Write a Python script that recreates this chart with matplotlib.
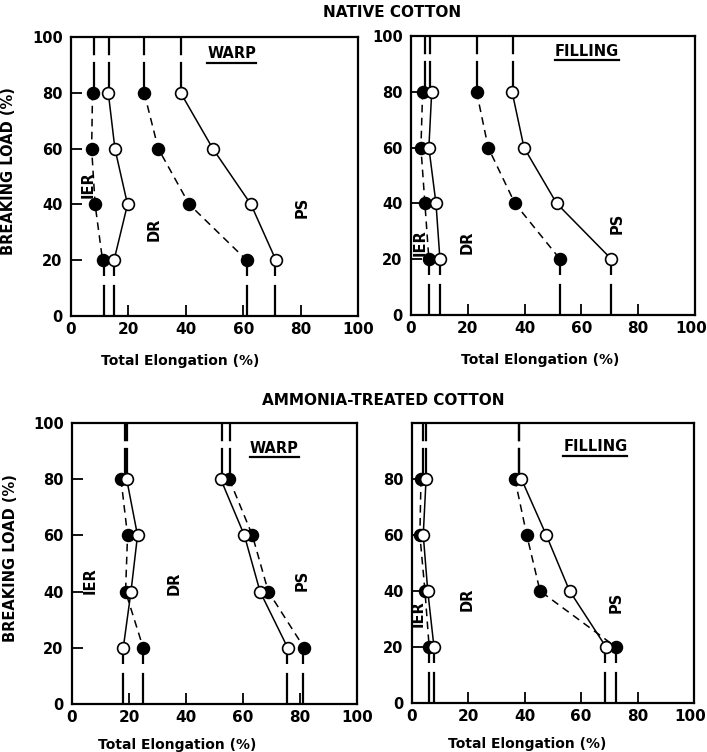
import matplotlib
matplotlib.use("Agg")
import matplotlib.pyplot as plt
import matplotlib.transforms as mtransforms
from matplotlib.lines import Line2D

# breaking load levels (%) at which points were measured
loads = [80, 60, 40, 20]

# total elongation (%), top point first
# native cotton, warp
nw_ier_filled = [7.5, 7.2, 8.4, 11.0]
nw_ier_open = [13.0, 15.3, 19.7, 15.0]
nw_ps_filled = [25.5, 30.4, 41.2, 61.2]
nw_ps_open = [38.2, 49.4, 62.7, 71.4]
# native cotton, filling
nf_ier_filled = [4.1, 3.5, 4.9, 6.3]
nf_ier_open = [7.3, 6.3, 8.8, 10.2]
nf_ps_filled = [23.1, 27.2, 36.6, 52.5]
nf_ps_open = [35.6, 39.8, 51.3, 70.6]
# ammonia-treated cotton, warp
aw_ier_filled = [17.2, 19.5, 18.8, 25.0]
aw_ier_open = [19.2, 23.0, 20.7, 18.0]
aw_ps_filled = [55.2, 63.3, 68.9, 81.5]
aw_ps_open = [52.2, 60.5, 66.0, 75.7]
# ammonia-treated cotton, filling
af_ier_filled = [3.2, 2.8, 4.6, 6.1]
af_ier_open = [5.0, 4.0, 5.6, 7.8]
af_ps_filled = [36.5, 40.7, 45.4, 72.3]
af_ps_open = [38.8, 47.6, 55.9, 68.8]

# where the vertical extensions sit (order: ier filled, ier open, ps filled, ps open)
top_vert = [
    [8.0, 13.3, 25.5, 38.2],
    [4.9, 6.7, 23.1, 36.0],
    [18.7, 19.2, 55.5, 52.8],
    [4.0, 5.0, 37.9, 37.9],
]
bottom_vert = [
    [11.5, 15.0, 61.2, 71.2],
    [6.3, 10.2, 52.5, 70.3],
    [25.0, 18.0, 81.0, 75.3],
    [6.1, 7.8, 72.3, 68.6],
]

ticks = [0, 20, 40, 60, 80, 100]
panel_names = ["WARP", "FILLING", "WARP", "FILLING"]

plt.rcParams['font.family'] = ['DejaVu Sans']
plt.rcParams['font.weight'] = 'bold'

fig = plt.figure(figsize=(7.07, 7.52), dpi=100)

axes_pos = [
    [0.1004, 0.5798, 0.4060, 0.3710],
    [0.5813, 0.5811, 0.4017, 0.3710],
    [0.1018, 0.0638, 0.4031, 0.3737],
    [0.5827, 0.0652, 0.3989, 0.3723],
]

panels = [
    (nw_ier_filled, nw_ier_open, nw_ps_filled, nw_ps_open),
    (nf_ier_filled, nf_ier_open, nf_ps_filled, nf_ps_open),
    (aw_ier_filled, aw_ier_open, aw_ps_filled, aw_ps_open),
    (af_ier_filled, af_ier_open, af_ps_filled, af_ps_open),
]

# where the name and region labels sit (data coords)
name_xy = [(56, 94), (62, 94.5), (71, 91), (65, 91.5)]
ier_xy = [(6, 47), (3.2, 26), (6.3, 44), (2.1, 32)]
dr_xy = [(29, 31), (19.7, 26), (36, 43), (19.5, 37)]
ps_xy = [(80.5, 39), (72.5, 33), (80.7, 44), (72.5, 36)]
xlab_x = [0.38, 0.454, 0.368, 0.408]
xlab_y = [-0.136, -0.136, -0.121, -0.121]

name_texts = []
for i, pos in enumerate(axes_pos):
    ax = fig.add_axes(pos)
    for j, series in enumerate(panels[i]):
        filled = (j % 2 == 0)
        ls = (0, (5, 3.5)) if filled else '-'
        ax.plot(series, loads, color='black', lw=1.1, ls=ls, zorder=2)
        # long-dash verticals to the top and bottom of the frame
        ax.vlines(top_vert[i][j], loads[0], 100, color='black', lw=1.6,
                  linestyles=[(0, (14, 3))], zorder=2)
        ax.vlines(bottom_vert[i][j], 0, loads[-1], color='black', lw=1.6,
                  linestyles=[(0, (14, 4))], zorder=2)
        ax.plot(series, loads, ls='none', marker='o', ms=8.5,
                mfc='black' if filled else 'white', mec='black', mew=1.2,
                zorder=3)

    ax.set_xlim(0, 100)
    ax.set_ylim(0, 100)
    ax.set_xticks(ticks)
    ax.set_yticks(ticks)
    if i == 3:
        ax.set_yticklabels(['0', '20', '40', '60', '80', ''])
    ax.tick_params(axis='both', direction='in', length=8, width=1.3)
    ax.tick_params(axis='x', labelsize=11, pad=4)
    ax.tick_params(axis='y', labelsize=10.5, pad=6)
    for sp in ax.spines.values():
        sp.set_linewidth(1.6)
    if i in (1, 3):
        # keep the last "100" inside the picture
        last = ax.get_xticklabels()[-1]
        last.set_transform(last.get_transform() +
                           mtransforms.ScaledTranslation(-4 / 100, 0, fig.dpi_scale_trans))

    ax.set_xlabel("Total Elongation (%)", fontsize=10, fontweight='bold')
    ax.xaxis.set_label_coords(xlab_x[i], xlab_y[i])
    if i in (0, 2):
        ax.set_ylabel("BREAKING LOAD (%)", fontsize=10.5, fontweight='bold')
        ax.yaxis.set_label_coords(-0.19, 0.52)

    t = ax.text(name_xy[i][0], name_xy[i][1], panel_names[i], fontsize=10.5,
                fontweight='bold', ha='center', va='center')
    name_texts.append(t)
    for lab, (tx, ty) in zip(["IER", "DR", "PS"], [ier_xy[i], dr_xy[i], ps_xy[i]]):
        ax.text(tx, ty, lab, fontsize=10.5, fontweight='bold', rotation=90,
                ha='center', va='center')

fig.text(0.555, 0.984, "NATIVE COTTON", fontsize=11, fontweight='bold',
         ha='center', va='center')
fig.text(0.542, 0.468, "AMMONIA-TREATED COTTON", fontsize=11, fontweight='bold',
         ha='center', va='center')

# underline the WARP / FILLING labels
fig.canvas.draw()
renderer = fig.canvas.get_renderer()
for t in name_texts:
    bb = t.get_window_extent(renderer).transformed(fig.transFigure.inverted())
    fig.add_artist(Line2D([bb.x0, bb.x1], [bb.y0 - 0.002, bb.y0 - 0.002],
                          transform=fig.transFigure, color='black', lw=1.6))

fig.savefig("out.png", dpi=100)
